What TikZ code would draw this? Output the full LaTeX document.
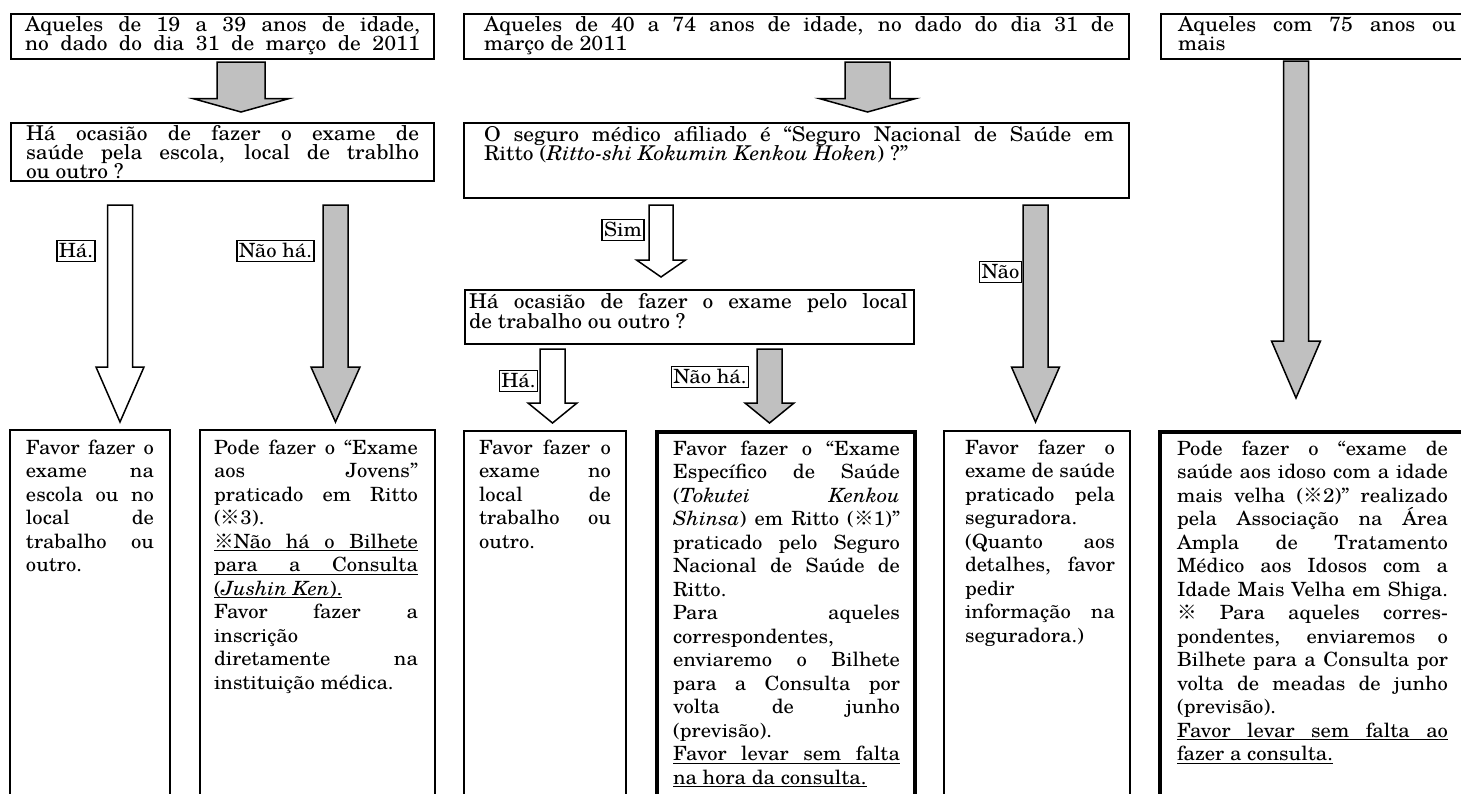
\documentclass[tikz,border=0pt]{standalone}
\usepackage{fontspec}
\setmainfont{texgyreschola-regular.otf}[FakeStretch=1.05,ItalicFont=texgyreschola-italic.otf,BoldFont=texgyreschola-bold.otf]
\newfontfamily\cjk{Noto Sans CJK JP}
\usetikzlibrary{calc}
\definecolor{boxgray}{HTML}{C0C0C0}
\newcommand\rf{{\cjk ※}}
\newcommand\JL[1]{\makebox[\linewidth][s]{#1}\par}
\newcommand\RL[1]{#1\par}
\newcommand\ULJ[1]{\leavevmode\rlap{\rule[-1.7pt]{\linewidth}{0.55pt}}\makebox[\linewidth][s]{#1}\par}
\newcommand\ULR[1]{\setbox0=\hbox{#1}\leavevmode\rlap{\rule[-1.7pt]{\wd0}{0.55pt}}\box0\par}
\newcommand\topf{\fontsize{10.2}{9.6}\selectfont\lineskiplimit=-100pt\relax}
\newcommand\topfb{\fontsize{10.2}{10}\selectfont\lineskiplimit=-100pt\relax}
\newcommand\botf{\fontsize{9.8}{11.75}\selectfont\lineskiplimit=-100pt\relax}
\newcommand\tb[5]{\hspace*{#1}\parbox[t][#4][t]{#2}{#5}\hspace*{#3}}
\newcommand\blockarrow[6]{\draw[#1] let \p1=(#2), \p2=(#3) in ({\x1-#4},{\y1}) -- ({\x1+#4},{\y1}) -- ({\x1+#4},{\y2+#6}) -- ({\x1+#5},{\y2+#6}) -- ({\x1},{\y2}) -- ({\x1-#5},{\y2+#6}) -- ({\x1-#4},{\y2+#6}) -- cycle;}
\begin{document}
\begin{tikzpicture}[x=0.5pt,y=-0.5pt,
  tbox/.style={draw=black,line width=1pt,inner sep=0pt,anchor=north west},
  thickbox/.style={tbox,line width=2pt},
  grayarrow/.style={draw=black,line width=0.75pt,line join=miter,fill=boxgray},
  whitearrow/.style={draw=black,line width=0.75pt,line join=miter,fill=white},
  lbl/.style={draw=black,line width=0.8pt,fill=white,inner xsep=1pt,inner ysep=1.5pt,
    text height=7pt,text depth=0.4pt,font=\fontsize{9.8}{11}\selectfont}]
\useasboundingbox (0,0) rectangle (1461,793);
\clip (0,0) rectangle (1461,793);
\fill[white] (0,0) rectangle (1461,793);

% ---------- top row ----------
\node[tbox] (b1) at (10,13) {\tb{7pt}{197.5pt}{7pt}{22.5pt}{\topf
\JL{\rule{0pt}{8.8pt}Aqueles de 19 a 39 anos de idade,}
\JL{no dado do dia 31 de março de 2011}}};
\node[tbox] (b3) at (463,13) {\tb{10pt}{315pt}{7.5pt}{22.5pt}{\topf
\JL{\rule{0pt}{8.8pt}Aqueles de 40 a 74 anos de idade, no dado do dia 31 de}
\RL{março de 2011}}};
\node[tbox] (b5) at (1160,13) {\tb{8.5pt}{139pt}{8.5pt}{22.5pt}{\topf
\JL{\rule{0pt}{8.8pt}Aqueles com 75 anos ou}
\RL{mais}}};

% ---------- questions ----------
\node[tbox] (b2) at (10,122) {\tb{7.5pt}{196.5pt}{7.5pt}{29pt}{\topf
\JL{\rule{0pt}{8.75pt}Há ocasião de fazer o exame de}
\JL{saúde pela escola, local de trablho}
\RL{ou outro ?}}};
\node[tbox] (b4) at (463,122) {\tb{10pt}{315pt}{7.5pt}{37.5pt}{\topf
\JL{\rule{0pt}{9pt}O seguro médico afiliado é “Seguro Nacional de Saúde em}
\RL{Ritto (\textit{Ritto-shi Kokumin Kenkou Hoken}) ?”}}};
\node[tbox] (m) at (464,289) {\tb{2pt}{219.5pt}{3pt}{27pt}{\topfb
\JL{\rule{0pt}{9pt}Há ocasião de fazer o exame pelo local}
\RL{de trabalho ou outro ?}}};

% ---------- result boxes ----------
\node[tbox] (rA) at (9,429) {\tb{8pt}{64pt}{8pt}{200pt}{\botf
\JL{\rule{0pt}{12pt}Favor fazer o}
\JL{exame na}
\JL{escola ou no}
\JL{local de}
\JL{trabalho ou}
\RL{outro.}}};
\node[tbox] (rB) at (199,429) {\tb{7pt}{102pt}{8.5pt}{200pt}{\botf
\JL{\rule{0pt}{12pt}Pode fazer o “Exame}
\JL{aos Jovens”}
\JL{praticado em Ritto}
\RL{(\rf 3).}
\ULJ{\rf Não há o Bilhete}
\ULJ{para a Consulta}
\ULR{(\textit{Jushin Ken}).}
\JL{Favor fazer a}
\RL{inscrição}
\JL{diretamente na}
\RL{instituição médica.}}};
\node[tbox] (rC) at (463,430) {\tb{7.5pt}{66pt}{7.5pt}{200pt}{\botf
\JL{\rule{0pt}{11.5pt}Favor fazer o}
\JL{exame no}
\JL{local de}
\JL{trabalho ou}
\RL{outro.}}};
\node[thickbox] (rD) at (655,430) {\tb{8pt}{113.5pt}{7.5pt}{200pt}{\botf
\JL{\rule{0pt}{11.5pt}Favor fazer o “Exame}
\JL{Específico de Saúde}
\JL{(\textit{Tokutei} \textit{Kenkou}}
\JL{\textit{Shinsa}) em Ritto (\rf 1)”}
\JL{praticado pelo Seguro}
\JL{Nacional de Saúde de}
\RL{Ritto.}
\JL{Para aqueles}
\RL{correspondentes,}
\JL{enviaremo o Bilhete}
\JL{para a Consulta por}
\JL{volta de junho}
\RL{(previsão).}
\ULJ{Favor levar sem falta}
\ULR{na hora da consulta.}}};
\node[tbox] (rE) at (943,430) {\tb{10.5pt}{75pt}{7.5pt}{200pt}{\botf
\JL{\rule{0pt}{11.5pt}Favor fazer o}
\JL{exame de saúde}
\JL{praticado pela}
\RL{seguradora.}
\JL{(Quanto aos}
\JL{detalhes, favor}
\RL{pedir}
\JL{informação na}
\RL{seguradora.)}}};
\node[thickbox] (rF) at (1158,430) {\tb{8.5pt}{135.5pt}{20pt}{200pt}{\botf
\JL{\rule{0pt}{11.5pt}Pode fazer o “exame de}
\JL{saúde aos idoso com a idade}
\JL{mais velha (\rf 2)” realizado}
\JL{pela Associação na Área}
\JL{Ampla de Tratamento}
\JL{Médico aos Idosos com a}
\JL{Idade Mais Velha em Shiga.}
\JL{\rf{} Para aqueles corres-}
\JL{pondentes, enviaremos o}
\JL{Bilhete para a Consulta por}
\JL{volta de meadas de junho}
\RL{(previsão).}
\ULJ{Favor levar sem falta ao}
\ULR{fazer a consulta.}}};

% ---------- arrow end points ----------
\coordinate (a1s) at (241,62);    \coordinate (a1e) at (241,112);
\coordinate (a2s) at (867.5,62);  \coordinate (a2e) at (867.5,112);
\coordinate (a3s) at (1296,61);   \coordinate (a3e) at (1296,398);
\coordinate (a4s) at (120,205);   \coordinate (a4e) at (120,422);
\coordinate (a5s) at (335.5,205); \coordinate (a5e) at (335.5,422);
\coordinate (a6s) at (661,205);   \coordinate (a6e) at (661,277);
\coordinate (a7s) at (552.5,349); \coordinate (a7e) at (552.5,423);
\coordinate (a8s) at (769.5,349); \coordinate (a8e) at (769.5,423);
\coordinate (a9s) at (1035.5,205);\coordinate (a9e) at (1035.5,422);

\blockarrow{grayarrow}{a1s}{a1e}{12pt}{24pt}{6.7pt}
\blockarrow{grayarrow}{a2s}{a2e}{11.25pt}{24pt}{6.7pt}
\blockarrow{grayarrow}{a3s}{a3e}{6.25pt}{12.25pt}{28.5pt}
\blockarrow{whitearrow}{a4s}{a4e}{6.25pt}{12pt}{27.5pt}
\blockarrow{grayarrow}{a5s}{a5e}{6.25pt}{12.25pt}{27.5pt}
\blockarrow{whitearrow}{a6s}{a6e}{6pt}{12.25pt}{8.5pt}
\blockarrow{whitearrow}{a7s}{a7e}{6.25pt}{12.25pt}{10pt}
\blockarrow{grayarrow}{a8s}{a8e}{6.25pt}{12.25pt}{10pt}
\blockarrow{grayarrow}{a9s}{a9e}{6.25pt}{12pt}{27.5pt}

% ---------- labels ----------
\node[lbl] (lHa1) at (76,251) {Há.};
\node[lbl] (lNao1) at (275.5,251) {Não há.};
\node[lbl] (lSim) at (623,230) {Sim};
\node[lbl] (lHa2) at (518.5,381) {Há.};
\node[lbl] (lNao2) at (710,377) {Não há.};
\node[lbl] (lNao3) at (1000.5,272) {Não};
\end{tikzpicture}
\end{document}
